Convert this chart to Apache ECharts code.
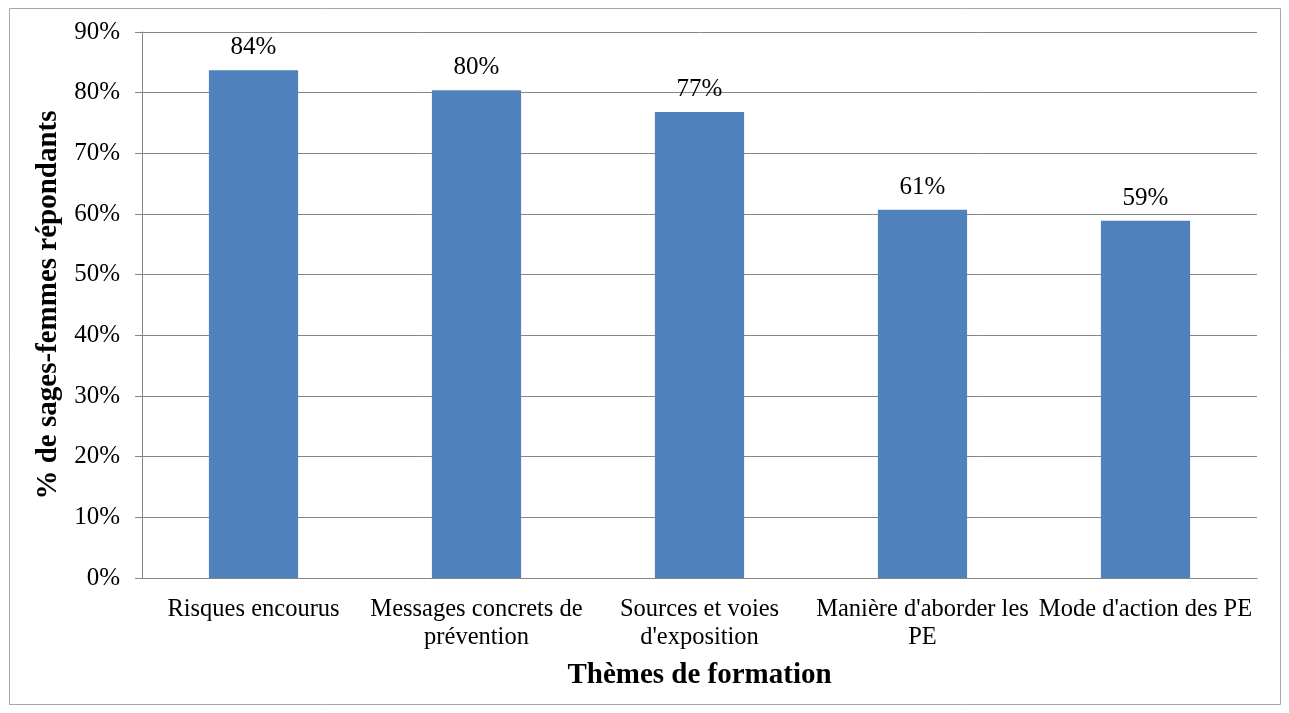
<!DOCTYPE html>
<html>
<head>
<meta charset="utf-8">
<script src="https://cdn.jsdelivr.net/npm/echarts@6/dist/echarts.min.js"></script>
<style>
  html, body { margin: 0; padding: 0; background: #fff; }
  #chart { width: 1289px; height: 713px; }
</style>
</head>
<body>
<div id="chart"></div>
<script>
  var categories = ['Risques encourus', 'Messages concrets de\nprévention', 'Sources et voies\nd\'exposition', 'Manière d\'aborder les\nPE', 'Mode d\'action des PE'];
  var values = [83.7, 80.4, 76.8, 60.7, 58.9];

  var chart = echarts.init(document.getElementById('chart'));
  var axisColor = '#868686';
  var font = '"Liberation Serif", "Times New Roman", serif';

  var option = {
    animation: false,
    textStyle: { fontFamily: font },
    graphic: [{
      type: 'rect',
      shape: { x: 9.5, y: 8.5, width: 1271, height: 696 },
      style: { fill: 'none', stroke: '#a6a6a6', lineWidth: 1 },
      silent: true
    }],
    grid: { left: 142, right: 32, top: 32, bottom: 135 },
    xAxis: {
      type: 'category',
      data: categories,
      name: 'Thèmes de formation',
      nameLocation: 'middle',
      nameGap: 83,
      nameTextStyle: { fontFamily: font, fontSize: 29, fontWeight: 'bold', color: '#000' },
      axisLine: { lineStyle: { color: axisColor } },
      axisTick: { length: 7, lineStyle: { color: axisColor } },
      axisLabel: { fontFamily: font, fontSize: 24.5, color: '#000', margin: 18, lineHeight: 28, interval: 0 }
    },
    yAxis: {
      type: 'value',
      min: 0,
      max: 90,
      interval: 10,
      name: '% de sages-femmes répondants',
      nameLocation: 'middle',
      nameGap: 76,
      nameTextStyle: { fontFamily: font, fontSize: 29, fontWeight: 'bold', color: '#000' },
      axisLine: { show: true, lineStyle: { color: axisColor } },
      axisTick: { show: true, length: 7, lineStyle: { color: axisColor } },
      axisLabel: { fontFamily: font, fontSize: 25, color: '#000', margin: 22, formatter: '{value}%' },
      splitLine: { lineStyle: { color: axisColor } }
    },
    series: [{
      type: 'bar',
      data: values,
      barWidth: '40%',
      itemStyle: { color: '#4F81BD' },
      label: {
        show: true,
        position: 'top',
        distance: 10,
        fontFamily: font,
        fontSize: 25,
        color: '#000',
        formatter: function (p) { return Math.round(p.value) + '%'; }
      }
    }]
  };
  chart.setOption(option);
</script>
</body>
</html>
